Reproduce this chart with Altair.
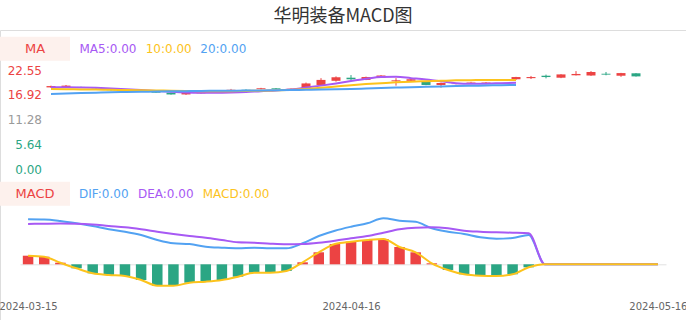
import altair as alt
import pandas as pd

# ---------------- data ----------------
dates = ["2024-03-15", "2024-03-18", "2024-03-19", "2024-03-20", "2024-03-21", "2024-03-22",
         "2024-03-25", "2024-03-26", "2024-03-27", "2024-03-28", "2024-03-29",
         "2024-04-01", "2024-04-02", "2024-04-03",
         "2024-04-08", "2024-04-09", "2024-04-10", "2024-04-11", "2024-04-12",
         "2024-04-15", "2024-04-16", "2024-04-17", "2024-04-18", "2024-04-19",
         "2024-04-22", "2024-04-23", "2024-04-24", "2024-04-25", "2024-04-26",
         "2024-04-29", "2024-04-30",
         "2024-05-06", "2024-05-07", "2024-05-08", "2024-05-09", "2024-05-10",
         "2024-05-13", "2024-05-14", "2024-05-15", "2024-05-16"]

opens = [18.60, 18.70, 18.70, 18.30, 18.15, 18.00, 17.95, 17.70, 17.40, 17.00, 17.25,
         17.80, 18.10, 18.10, 18.20, 18.40, 18.25, 18.45, 19.15, 20.10, 20.80, 20.30,
         20.80, 20.00, 20.10, 19.90, 19.15, 19.35, 19.70, 19.65, 20.20, 20.45, 20.70,
         21.25, 20.80, 21.35, 21.30, 21.70, 21.25, 21.80]
highs = [19.00, 19.15, 18.75, 18.40, 18.20, 18.05, 18.00, 17.80, 17.45, 17.40, 17.60,
         17.95, 18.25, 18.15, 18.50, 18.45, 18.35, 19.70, 20.70, 21.10, 21.40, 21.05,
         21.40, 20.70, 20.60, 19.95, 19.70, 19.50, 19.85, 19.80, 20.40, 21.00, 21.20,
         21.50, 21.60, 22.30, 22.30, 22.10, 21.90, 21.85]
lows = [18.50, 18.65, 18.45, 18.10, 17.90, 17.90, 17.85, 17.40, 16.95, 16.90, 17.20,
        17.75, 18.05, 18.00, 18.15, 18.20, 18.20, 18.40, 19.10, 19.90, 20.10, 20.25,
        20.75, 19.00, 20.05, 19.10, 18.55, 19.30, 19.65, 19.60, 20.10, 20.30, 20.50,
        20.65, 20.70, 21.30, 21.20, 21.35, 21.00, 21.05]
closes = [18.90, 19.00, 18.50, 18.10, 17.95, 17.95, 17.90, 17.40, 17.00, 17.35, 17.50,
          17.90, 18.15, 18.05, 18.40, 18.25, 18.30, 19.50, 20.30, 20.90, 20.45, 20.95,
          21.30, 20.20, 20.45, 19.15, 19.60, 19.45, 19.80, 19.75, 20.35, 20.95, 20.95,
          20.95, 21.55, 21.65, 22.10, 21.50, 21.85, 21.10]

ma5 = [18.65, 18.65, 18.60, 18.50, 18.35, 18.20, 18.00, 17.80, 17.60, 17.45, 17.40,
       17.40, 17.45, 17.55, 17.75, 17.90, 18.15, 18.55, 19.00, 19.50, 20.05, 20.55,
       20.95, 21.00, 20.70, 20.40, 20.00, 19.55, 19.40, 19.45, 19.55, 19.65]
ma10 = [18.25, 18.20, 18.15, 18.10, 18.05, 18.00, 17.95, 17.90, 17.85, 17.80, 17.75,
        17.75, 17.75, 17.80, 17.85, 17.95, 18.05, 18.25, 18.50, 18.80, 19.10, 19.35,
        19.55, 19.75, 19.90, 20.00, 20.10, 20.20, 20.25, 20.30, 20.30, 20.30]
ma20 = [17.10, 17.20, 17.30, 17.40, 17.50, 17.55, 17.60, 17.65, 17.70, 17.75, 17.80,
        17.82, 17.85, 17.88, 17.90, 17.95, 18.00, 18.05, 18.10, 18.17, 18.25, 18.35,
        18.45, 18.55, 18.65, 18.72, 18.80, 18.90, 18.97, 19.03, 19.10, 19.15]

dif = [0.450, 0.448, 0.433, 0.410, 0.383, 0.350, 0.326, 0.293, 0.243, 0.210, 0.203,
       0.176, 0.166, 0.160, 0.166, 0.160, 0.160, 0.210, 0.283, 0.336, 0.376, 0.410,
       0.460, 0.436, 0.426, 0.360, 0.326, 0.303, 0.270, 0.256, 0.263, 0.293,
       0, 0, 0, 0, 0, 0, 0, 0]
dea = [0.403, 0.406, 0.408, 0.406, 0.398, 0.383, 0.370, 0.350, 0.326, 0.303, 0.283,
       0.266, 0.243, 0.220, 0.216, 0.206, 0.200, 0.203, 0.216, 0.236, 0.260, 0.283,
       0.316, 0.350, 0.366, 0.370, 0.360, 0.336, 0.326, 0.320, 0.316, 0.310,
       0, 0, 0, 0, 0, 0, 0, 0]
macd = [0.086, 0.076, 0.016, -0.040, -0.090, -0.107, -0.117, -0.157, -0.214, -0.214, -0.184,
        -0.174, -0.157, -0.124, -0.084, -0.084, -0.067, 0.020, 0.120, 0.203, 0.226, 0.243,
        0.253, 0.173, 0.120, 0.010, -0.057, -0.100, -0.114, -0.117, -0.100, -0.030,
        0, 0, 0, 0, 0, 0, 0, 0]

price_ticks = [0, 5.64, 11.28, 16.92, 22.55]
date_ticks = ["2024-03-15", "2024-04-16", "2024-05-16"]

title_text = "华明装备MACD图"
ma_legend = [("MA5:0.00", "purple"), ("10:0.00", "yellow"), ("20:0.00", "blue")]
macd_legend = [("DIF:0.00", "blue"), ("DEA:0.00", "purple"), ("MACD:0.00", "yellow")]

# ---------------- style ----------------
RED = "#ec4343"
GREEN = "#2ba684"
COLORS = {"purple": "#a759f4", "yellow": "#fcc31c", "blue": "#52a2f2"}
BOX = "#fdf1ed"
FONT = "DejaVu Sans"
W, H, TOP = 686, 290, 30

kdf = pd.DataFrame({"date": dates, "open": opens, "high": highs, "low": lows, "close": closes})
madf = pd.DataFrame({"date": dates[:len(ma5)], "ma5": ma5, "ma10": ma10, "ma20": ma20})
mdf = pd.DataFrame({"date": dates, "dif": dif, "dea": dea, "macd": macd})

x_top = alt.Scale(type="point", domain=dates, range=[43.5, 643.5], padding=0.5)
y_price = alt.Scale(domain=[0, 22.55], range=[169.3 - TOP, 70 - TOP], zero=False, nice=False)
x_bot = alt.Scale(type="point", domain=dates, range=[20, 666], padding=0.5)
y_macd = alt.Scale(domain=[-0.5, 0.6], range=[264.3 + 50 - TOP, 264.3 - 60 - TOP], zero=False, nice=False)

up_down = alt.condition("datum.close >= datum.open", alt.value(RED), alt.value(GREEN))

price_axis = alt.Axis(
    values=price_ticks, format=".2f", title=None, ticks=False, domain=False, grid=False,
    labelFont=FONT, labelFontSize=12, labelPadding=1.5, offset=-43,
    labelColor={"condition": [{"test": "datum.value > 14", "value": RED},
                              {"test": "datum.value < 8", "value": GREEN}],
                "value": "#9a9a9a"},
)

wicks = alt.Chart(kdf).mark_rule(strokeWidth=1).encode(
    x=alt.X("date:O", scale=x_top, axis=None),
    y=alt.Y("low:Q", scale=y_price, axis=price_axis),
    y2="high:Q",
    color=up_down,
)
bodies = alt.Chart(kdf).mark_bar(width=9).encode(
    x=alt.X("date:O", scale=x_top, axis=None),
    y=alt.Y("open:Q", scale=y_price, axis=None),
    y2="close:Q",
    color=up_down,
)


def ma_line(field, color):
    return alt.Chart(madf).mark_line(strokeWidth=2, interpolate="monotone", color=color).encode(
        x=alt.X("date:O", scale=x_top, axis=None),
        y=alt.Y(f"{field}:Q", scale=y_price, axis=None),
    )


date_axis = alt.Axis(
    values=date_ticks, title=None, ticks=False, grid=False, domain=True,
    domainColor="#e2e2e2", domainWidth=1, labelFont=FONT, labelFontSize=10,
    labelColor="#666666", labelPadding=37.5, offset=-(H - (264.3 - TOP)),
    labelFlush=False, labelOverlap=False, labelAngle=0, labelBound=False,
)

hist = alt.Chart(mdf).mark_bar(width=10.5).encode(
    x=alt.X("date:O", scale=x_bot, axis=date_axis),
    y=alt.Y("macd:Q", scale=y_macd, axis=None),
    y2=alt.datum(0),
    color=alt.condition("datum.macd >= 0", alt.value(RED), alt.value(GREEN)),
)


def macd_line(field, color):
    return alt.Chart(mdf).mark_line(strokeWidth=2, interpolate="monotone", color=color).encode(
        x=alt.X("date:O", scale=x_bot, axis=None),
        y=alt.Y(f"{field}:Q", scale=y_macd, axis=None),
    )


def text_at(text, color, x, y, size=12, align="left"):
    return alt.Chart(pd.DataFrame({"t": [text]})).mark_text(
        align=align, baseline="middle", font=FONT, fontSize=size, color=color
    ).encode(x=alt.value(x), y=alt.value(y), text="t:N")


def box(y0, y1):
    return alt.Chart(pd.DataFrame({"t": [0]})).mark_rect(color=BOX).encode(
        x=alt.value(0), x2=alt.value(70), y=alt.value(y0), y2=alt.value(y1)
    )


layers = [
    box(36.7 - TOP, 60.7 - TOP),
    box(181.7 - TOP, 205.7 - TOP),
    text_at("MA", RED, 35, 48.7 - TOP, size=13, align="center"),
    text_at("MACD", RED, 35, 193.7 - TOP, size=13, align="center"),
]
for (t, c), x in zip(ma_legend, [79.5, 145.7, 200.3]):
    layers.append(text_at(t, COLORS[c], x, 48.5 - TOP))
for (t, c), x in zip(macd_legend, [79, 138, 202.7]):
    layers.append(text_at(t, COLORS[c], x, 193.5 - TOP))

layers += [
    wicks, bodies,
    ma_line("ma5", COLORS["purple"]),
    ma_line("ma10", COLORS["yellow"]),
    ma_line("ma20", COLORS["blue"]),
    hist,
    macd_line("dif", COLORS["blue"]),
    macd_line("dea", COLORS["purple"]),
    macd_line("macd", COLORS["yellow"]),
]

chart = alt.layer(*layers).resolve_scale(x="independent", y="independent").properties(
    width=W, height=H,
    padding={"left": 0, "right": 0, "top": TOP, "bottom": 0},
    autosize=alt.AutoSizeParams(type="none"),
    title=alt.TitleParams(text=title_text, font="Noto Sans CJK SC", fontSize=18,
                          fontWeight="normal", color="#333333", anchor="middle", offset=4),
).configure_view(stroke=None).configure(background="white")

chart.save("out.html", embed_options={"renderer": "svg", "actions": False})
